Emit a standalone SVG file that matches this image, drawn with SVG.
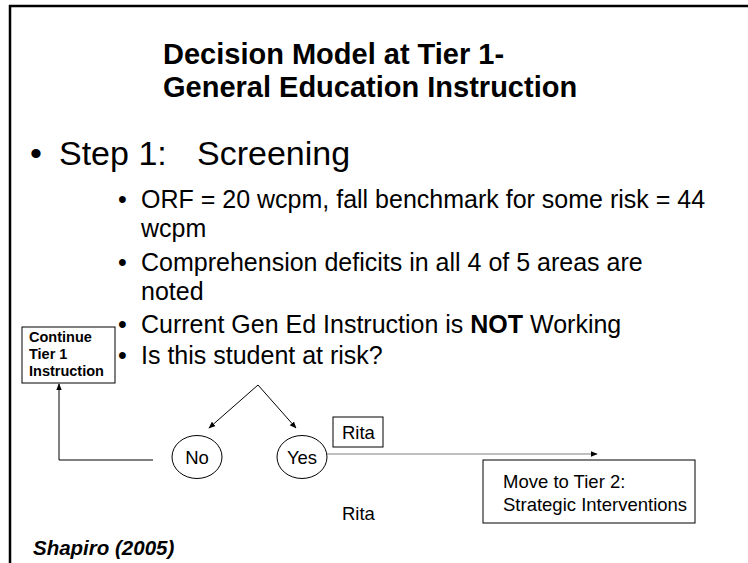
<svg xmlns="http://www.w3.org/2000/svg" width="748" height="563" viewBox="0 0 748 563">
<defs>
<style>
text{font-family:"Liberation Sans",Arial,sans-serif;fill:#000}
.title{font-size:29px;font-weight:bold}
.l1{font-size:34px}
.l2{font-size:25px}
.box{fill:#fff;stroke:#000;stroke-width:1}
.small{font-size:14.5px;font-weight:bold}
.lbl{font-size:18.5px}
.conn{fill:none;stroke:#000;stroke-width:1}
</style>
<marker id="arr" viewBox="0 0 10 10" refX="9" refY="5" markerWidth="7" markerHeight="7" markerUnits="userSpaceOnUse" orient="auto">
<path d="M0,1 L10,5 L0,9 Z" fill="#000"/>
</marker>
</defs>
<rect width="748" height="563" fill="#fff"/>
<path d="M10,563 V6 H748" fill="none" stroke="#000" stroke-width="2.5"/>
<g id="title">
<text class="title" x="163" y="64">Decision Model at Tier 1-</text>
<text class="title" x="163" y="97">General Education Instruction</text>
</g>
<g id="bullets">
<text class="l1" y="165"><tspan x="30">•</tspan><tspan x="59">Step 1:</tspan><tspan x="197">Screening</tspan></text>
<text class="l2" y="208"><tspan x="118">•</tspan><tspan x="141">ORF = 20 wcpm, fall benchmark for some risk = 44</tspan></text>
<text class="l2" x="141" y="237">wcpm</text>
<text class="l2" y="271"><tspan x="118">•</tspan><tspan x="141">Comprehension deficits in all 4 of 5 areas are</tspan></text>
<text class="l2" x="141" y="300">noted</text>
<text class="l2" y="333"><tspan x="118">•</tspan><tspan x="141">Current Gen Ed Instruction is <tspan font-weight="bold">NOT</tspan> Working</tspan></text>
<text class="l2" y="364"><tspan x="118">•</tspan><tspan x="141">Is this student at risk?</tspan></text>
</g>
<g id="continue">
<rect class="box" x="22" y="327" width="93" height="56"/>
<text class="small" x="29" y="342">Continue</text>
<text class="small" x="29" y="359">Tier 1</text>
<text class="small" x="29" y="376">Instruction</text>
</g>
<g id="no">
<ellipse class="box" cx="197" cy="457" rx="25" ry="21.5"/>
<text class="lbl" x="197" y="464" text-anchor="middle">No</text>
</g>
<g id="yes">
<ellipse class="box" cx="302" cy="457" rx="25" ry="21.5"/>
<text class="lbl" x="302" y="464" text-anchor="middle">Yes</text>
</g>
<g id="rita-box">
<rect class="box" x="333" y="417" width="50" height="30"/>
<text class="lbl" x="342" y="439">Rita</text>
</g>
<g id="move">
<rect class="box" x="483" y="460" width="212" height="63"/>
<text class="lbl" x="503" y="488">Move to Tier 2:</text>
<text class="lbl" x="503" y="511">Strategic Interventions</text>
</g>
<g id="rita-label">
<text class="lbl" x="342" y="520">Rita</text>
</g>
<g id="citation">
<text x="33" y="555" font-size="20.5" font-weight="bold" font-style="italic">Shapiro (2005)</text>
</g>
<g id="connectors">
<line class="conn" x1="258" y1="385" x2="209" y2="428" marker-end="url(#arr)"/>
<line class="conn" x1="258" y1="385" x2="296" y2="428" marker-end="url(#arr)"/>
<path class="conn" d="M153,460 H59 V384" marker-end="url(#arr)"/>
<line x1="327" y1="454" x2="597" y2="454" stroke="#808080" stroke-width="1.2" marker-end="url(#arr)"/>
</g>
</svg>
